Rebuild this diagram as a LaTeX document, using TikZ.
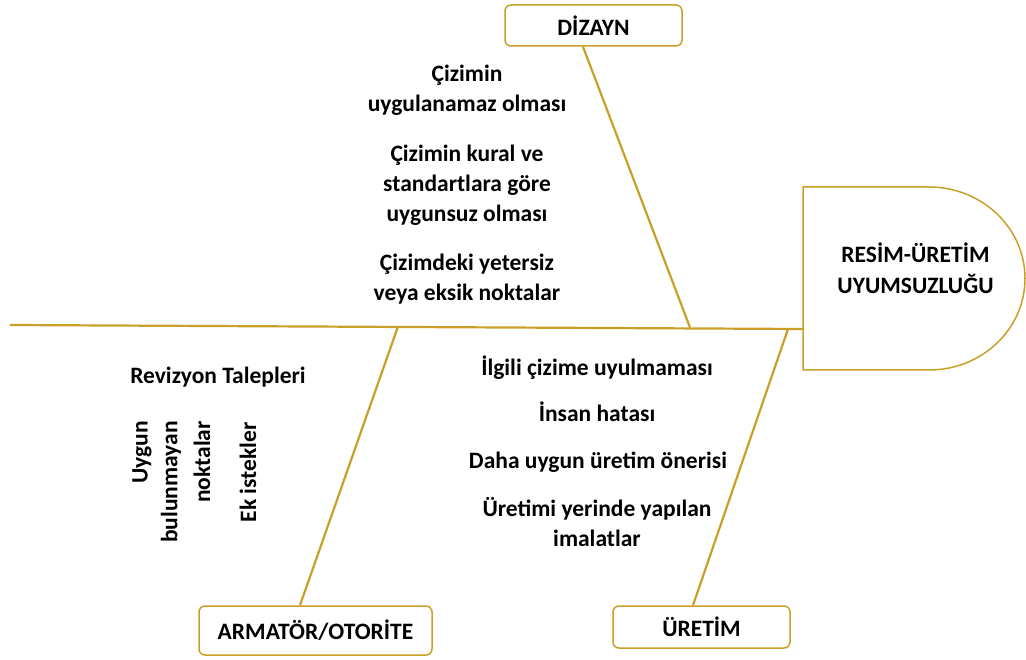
\documentclass[tikz,border=0pt]{standalone}
\usepackage{fontspec}
\setmainfont{Carlito}
\definecolor{bone}{RGB}{201,160,39}
\tikzset{
  cat/.style={draw=bone, line width=1.5pt, rounded corners=6pt, fill=white,
    font=\bfseries\fontsize{23.5}{28}\selectfont, inner sep=0pt},
  cause/.style={font=\bfseries\fontsize{23.5}{30}\selectfont, align=center, inner sep=0pt},
  vcause/.style={font=\bfseries\fontsize{23.5}{30}\selectfont, rotate=90, anchor=east, inner sep=0pt},
  boneline/.style={draw=bone, line width=2.2pt},
}
\begin{document}
\begin{tikzpicture}[x=1pt, y=-1pt]
\useasboundingbox (0,0) rectangle (1026,660);

% fish head
\draw[bone, line width=1.5pt] (803,187) -- (929,187)
  arc[start angle=-90, end angle=90, x radius=96, y radius=91.5] -- (803,370) -- cycle;
\node[cause, font=\bfseries\fontsize{23.5}{31}\selectfont] (effect) at (915.5,268) {RESİM-ÜRETİM\\UYUMSUZLUĞU};

% spine
\coordinate (tail) at (10,325);
\coordinate (headjoin) at (803,329);
\draw[boneline] (tail) -- (headjoin);

% category boxes
\node[cat, minimum width=177pt, minimum height=41pt] (dizayn) at (593.5,25.5) {DİZAYN};
\node[cat, minimum width=233pt, minimum height=49pt] (armator) at (315.5,630.5) {ARMATÖR/OTORİTE};
\node[cat, minimum width=177pt, minimum height=42pt] (uretim) at (701.5,627) {ÜRETİM};

% bones
\coordinate (jd) at (690,327.5);
\coordinate (ja) at (398,326.5);
\coordinate (ju) at (788,329);
\draw[boneline] (dizayn.south -| 583,0) -- (jd);
\draw[boneline] (ja) -- (armator.north -| 300,0);
\draw[boneline] (ju) -- (uretim.north -| 693,0);

% design causes
\node[cause] (d1) at (467,90) {Çizimin\\uygulanamaz olması};
\node[cause] (d2) at (467,185) {Çizimin kural ve\\standartlara göre\\uygunsuz olması};
\node[cause] (d3) at (467,279) {Çizimdeki yetersiz\\veya eksik noktalar};

% owner / authority causes
\node[cause] (a1) at (218,377) {Revizyon Talepleri};
\node[vcause] (a2) at (142,421) {Uygun};
\node[vcause] (a3) at (171,421) {bulunmayan};
\node[vcause] (a4) at (202,421) {noktalar};
\node[vcause] (a5) at (248,422) {Ek istekler};

% production causes
\node[cause] (u1) at (597,368) {İlgili çizime uyulmaması};
\node[cause] (u2) at (597,412) {İnsan hatası};
\node[cause] (u3) at (598,462) {Daha uygun üretim önerisi};
\node[cause] (u4) at (597,522) {Üretimi yerinde yapılan\\imalatlar};
\end{tikzpicture}
\end{document}
